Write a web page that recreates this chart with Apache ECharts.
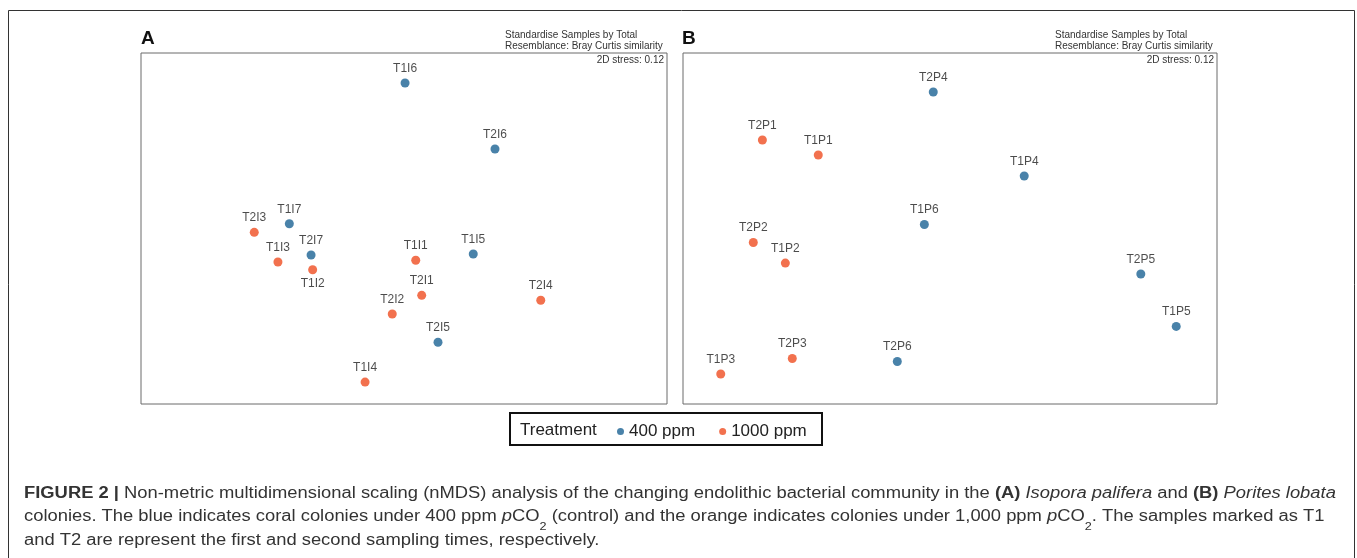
<!DOCTYPE html>
<html>
<head>
<meta charset="utf-8">
<script src="https://cdn.jsdelivr.net/npm/echarts@6/dist/echarts.min.js"></script>
<style>html,body{margin:0;padding:0;background:#fff;}#c{width:1357px;height:558px;}</style>
</head>
<body>
<div id="c"></div>
<script>
// ---- Panel A: Isopora palifera (nMDS coordinates, arbitrary units) ----
const samplesA = ['T1I6','T2I6','T1I7','T2I3','T1I3','T2I7','T1I2','T1I1','T1I5','T2I1','T2I2','T2I4','T2I5','T1I4'];
const xA = [0.006, 0.519, -0.654, -0.854, -0.719, -0.530, -0.521, 0.067, 0.395, 0.101, -0.067, 0.780, 0.194, -0.222];
const yA = [0.829, 0.453, 0.027, -0.022, -0.191, -0.151, -0.235, -0.181, -0.145, -0.381, -0.487, -0.409, -0.648, -0.875];
const treatA = ['400','400','400','1000','1000','400','1000','1000','400','1000','1000','1000','400','1000'];

// ---- Panel B: Porites lobata ----
const samplesB = ['T2P4','T2P1','T1P1','T1P4','T1P6','T2P2','T1P2','T2P5','T1P5','T2P3','T2P6','T1P3'];
const xB = [-0.094, -1.054, -0.740, 0.417, -0.144, -1.105, -0.925, 1.072, 1.271, -0.886, -0.296, -1.288];
const yB = [0.778, 0.504, 0.419, 0.299, 0.023, -0.080, -0.197, -0.259, -0.558, -0.741, -0.758, -0.829];
const treatB = ['400','1000','1000','400','400','1000','1000','400','400','1000','400','1000'];

const treatments = ['400', '1000'];
const treatmentNames = ['400 ppm', '1000 ppm'];
const labelsBelow = ['T1I2'];

const stressA = '0.12';
const stressB = '0.12';

const COLORS = {'400': '#1c6394', '1000': '#ef4e22'};
const FONT = '"Liberation Sans", Arial, Helvetica, sans-serif';

function buildSeries(names, xs, ys, tr, gridIdx) {
  return treatments.map((t, k) => ({
    name: treatmentNames[k],
    type: 'scatter',
    xAxisIndex: gridIdx,
    yAxisIndex: gridIdx,
    symbol: 'circle',
    symbolSize: 9,
    itemStyle: {color: COLORS[t]},
    emphasis: {disabled: true},
    data: names.map((n, i) => ({n, i})).filter(o => tr[o.i] === t).map(o => ({
      name: o.n,
      value: [xs[o.i], ys[o.i]],
      label: labelsBelow.includes(o.n) ? {position: 'bottom', distance: 3} : undefined
    })),
    label: {
      show: true,
      position: 'top',
      distance: 4,
      formatter: p => p.name,
      color: '#1e1e1e',
      fontSize: 12,
      fontFamily: FONT
    }
  }));
}

const chart = echarts.init(document.getElementById('c'), null, {renderer: 'canvas'});

const capRich = {
  b: {fontWeight: 'bold', fontSize: 16, fontFamily: FONT, color: '#222'},
  i: {fontStyle: 'italic', fontSize: 16, fontFamily: FONT, color: '#333'},
  s: {fontSize: 11, fontFamily: FONT, color: '#333', verticalAlign: 'bottom', lineHeight: 12, padding: [0, 0, -7, 0]}
};
function captionLine(y, text) {
  return {
    type: 'text', x: 24, y: y, scaleX: 1.148, scaleY: 1,
    style: {text: text, rich: capRich, fontSize: 16, fontFamily: FONT, fill: '#333', verticalAlign: 'top', align: 'left'}
  };
}

const option = {
  animation: false,
  backgroundColor: '#fff',
  grid: [
    {left: 141, top: 53, width: 526, height: 351, show: true, borderColor: '#6b6b6b', borderWidth: 1, backgroundColor: 'transparent'},
    {left: 683, top: 53, width: 534, height: 351, show: true, borderColor: '#6b6b6b', borderWidth: 1, backgroundColor: 'transparent'}
  ],
  xAxis: [
    {gridIndex: 0, type: 'value', min: -1.5, max: 1.5, show: false},
    {gridIndex: 1, type: 'value', min: -1.5, max: 1.5, show: false}
  ],
  yAxis: [
    {gridIndex: 0, type: 'value', min: -1, max: 1, show: false},
    {gridIndex: 1, type: 'value', min: -1, max: 1, show: false}
  ],
  legend: {
    data: treatmentNames,
    left: 617,
    top: 423,
    icon: 'circle',
    itemWidth: 7,
    itemHeight: 7,
    itemGap: 24,
    padding: 0,
    selectedMode: false,
    textStyle: {fontSize: 17, fontFamily: FONT, color: '#222'}
  },
  series: [].concat(buildSeries(samplesA, xA, yA, treatA, 0), buildSeries(samplesB, xB, yB, treatB, 1)),
  graphic: [
    {type: 'rect', shape: {x: 8.5, y: 10.5, width: 1346, height: 700}, style: {fill: 'none', stroke: '#333', lineWidth: 1}, silent: true},
    {type: 'text', left: 141, top: 29, style: {text: 'A', fontSize: 19, fontWeight: 'bold', fontFamily: FONT, fill: '#111'}},
    {type: 'text', left: 682, top: 29, style: {text: 'B', fontSize: 19, fontWeight: 'bold', fontFamily: FONT, fill: '#111'}},
    {type: 'text', left: 505, top: 29, style: {text: 'Standardise Samples by Total\nResemblance: Bray Curtis similarity', fontSize: 10, lineHeight: 11.5, fontFamily: FONT, fill: '#333'}},
    {type: 'text', right: 1357 - 664, top: 55, style: {text: '2D stress: ' + stressA, fontSize: 10, fontFamily: FONT, fill: '#333', align: 'right'}},
    {type: 'text', left: 1055, top: 29, style: {text: 'Standardise Samples by Total\nResemblance: Bray Curtis similarity', fontSize: 10, lineHeight: 11.5, fontFamily: FONT, fill: '#333'}},
    {type: 'text', right: 1357 - 1214, top: 55, style: {text: '2D stress: ' + stressB, fontSize: 10, fontFamily: FONT, fill: '#333', align: 'right'}},
    {type: 'rect', shape: {x: 510, y: 413, width: 312, height: 32}, style: {fill: 'none', stroke: '#111', lineWidth: 2}, silent: true},
    {type: 'text', left: 520, top: 422, style: {text: 'Treatment', fontSize: 17, fontFamily: FONT, fill: '#222'}},
    captionLine(486, '{b|FIGURE 2 |} Non-metric multidimensional scaling (nMDS) analysis of the changing endolithic bacterial community in the {b|(A)} {i|Isopora palifera} and {b|(B)} {i|Porites lobata}'),
    captionLine(509, 'colonies. The blue indicates coral colonies under 400 ppm {i|p}CO{s|2} (control) and the orange indicates colonies under 1,000 ppm {i|p}CO{s|2}. The samples marked as T1'),
    captionLine(533, 'and T2 are represent the first and second sampling times, respectively.')
  ]
};
chart.setOption(option);
</script>
</body>
</html>
